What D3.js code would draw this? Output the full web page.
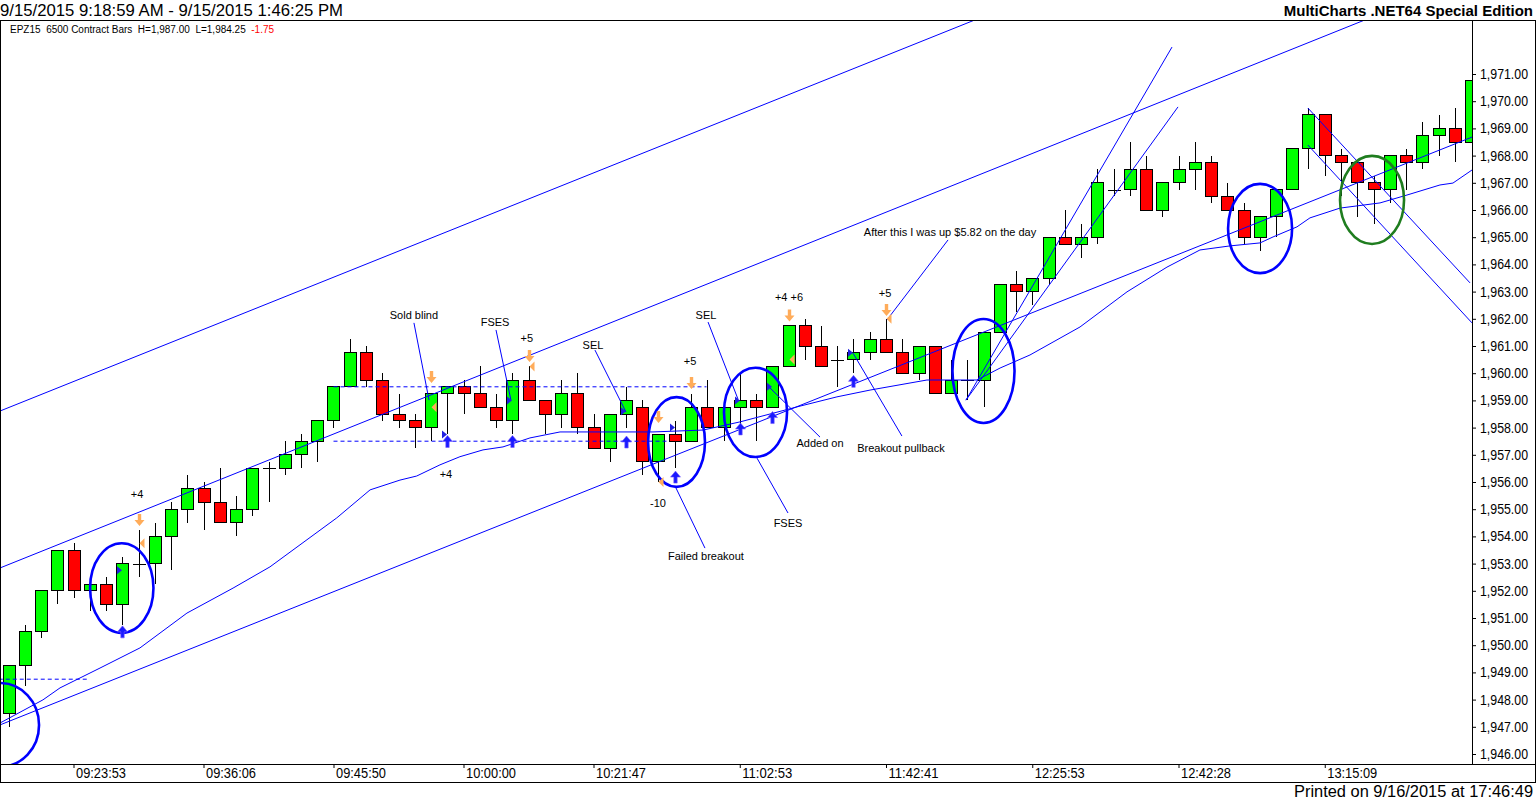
<!DOCTYPE html>
<html>
<head>
<meta charset="utf-8">
<script src="https://cdn.jsdelivr.net/npm/d3@7"></script>
<style>
body { margin: 0; background: #fff; }
svg { display: block; }
text { font-family: "Liberation Sans", Arial, sans-serif; }
</style>
</head>
<body>
<svg id="chart" width="1536" height="801"></svg>
<script>
// bars 1..91 (6500 contract bars, EPZ15)
var opens = [1947.5,1949.25,1950.5,1952,1953.5,1952,1952.25,1951.5,1953,1953,
	1954,1955,1955.75,1955.25,1954.5,1955,1956.5,1956.5,1957,1957.5,
	1958.25,1959.5,1960.75,1959.75,1958.5,1958.25,1958,1959.25,1959.5,1959.25,
	1958.75,1958.25,1959.75,1959,1958.5,1959.25,1958,1957.25,1958.5,1958.75,
	1956.75,1957.75,1957.5,1958.75,1958,1958.75,1959,1958.75,1960.25,1961.75,
	1961,1960.5,1960.5,1960.75,1961.25,1960.75,1960,1961,1959.25,1959.75,
	1959.75,1961.5,1963.25,1963,1963.5,1965,1964.75,1965,1966.75,1966.75,
	1967.5,1966,1967,1967.5,1967.75,1966.5,1966,1965,1965.75,1966.75,
	1968.25,1969.5,1968,1967.75,1967,1966.75,1968,1967.75,1968.75,1969,
	1968.5]
var highs = [1949.25,1950.75,1952,1953.5,1953.75,1952.5,1952.5,1953.25,1954.25,1954.5,
	1955.25,1956.25,1956,1956.5,1955.5,1956.5,1956.75,1957.5,1957.75,1958.25,
	1959.5,1961.25,1961,1960,1959.25,1958.5,1959.25,1959.5,1959.75,1960.25,
	1959.25,1960,1960.25,1959,1959.75,1960,1958.5,1958.5,1959.5,1959,
	1957.75,1958.25,1959.25,1959.75,1958.75,1960,1959.25,1960.25,1961.75,1962,
	1961.75,1961,1961.25,1961.5,1962,1961.25,1961,1961,1960.5,1960.5,
	1961.5,1963.25,1963.75,1963.5,1965,1966,1965.5,1967.5,1967.5,1968.5,
	1968,1967,1968,1968.5,1968,1967,1966.25,1965.75,1966.75,1968.25,
	1969.75,1969.5,1968.25,1967.75,1967.25,1968,1968.25,1969.25,1969.5,1969.75,
	1970.75]
var lows = [1947,1948.5,1950.25,1951.5,1951.75,1951.25,1951.25,1950.75,1952.5,1952.25,
	1952.75,1954.5,1954.25,1954.5,1954,1954.75,1955.25,1956.25,1956.5,1956.75,
	1958,1959.5,1959.5,1958.25,1958,1957.25,1957.5,1957.75,1958.5,1958.75,
	1958,1957.75,1959,1957.75,1958,1957.75,1957.25,1956.75,1958,1956.25,
	1956,1956.5,1957.5,1958,1957.5,1957.75,1957.5,1958.75,1960.25,1960.5,
	1960.25,1959.5,1960,1960.5,1960.75,1960,1959.75,1959.25,1959.25,1959,
	1958.75,1961.5,1962.25,1962.5,1963.25,1964.75,1964.25,1964.75,1966.5,1966.5,
	1966,1965.75,1966.75,1966.75,1966.25,1966,1964.75,1964.5,1965,1966.75,
	1967.5,1967.25,1966.5,1965.75,1965.5,1966.25,1966.75,1967.5,1968,1967.75,
	1968.5]
var closes = [1949.25,1950.5,1952,1953.5,1952,1952.25,1951.5,1953,1953,1954,
	1955,1955.75,1955.25,1954.5,1955,1956.5,1956.5,1957,1957.5,1958.25,
	1959.5,1960.75,1959.75,1958.5,1958.25,1958,1959.25,1959.5,1959.25,1958.75,
	1958.25,1959.75,1959,1958.5,1959.25,1958,1957.25,1958.5,1959,1956.75,
	1957.75,1957.5,1958.75,1958,1958.75,1959,1958.75,1960.25,1961.75,1961,
	1960.25,1960.5,1960.75,1961.25,1960.75,1960,1961,1959.25,1959.75,1959.75,
	1961.5,1963.25,1963,1963.5,1965,1964.75,1965,1967,1966.75,1967.5,
	1966,1967,1967.5,1967.75,1966.5,1966,1965,1965.75,1966.75,1968.25,
	1969.5,1968,1967.75,1967,1966.75,1968,1967.75,1968.75,1969,1968.5,
	1970.75]

var timeTickBars = [4, 12, 20, 28, 36, 45, 54, 63, 72, 81]
var timeTickLabels = ['09:23:53','09:36:06','09:45:50','10:00:00','10:21:47','11:02:53','11:42:41','12:25:53','12:42:28','13:15:09']
var priceTicks = d3.range(1946, 1972)

// moving average, [bar, price]
var maPoints = [[-0.52,1947.14],[2.12,1947.99],[3.17,1948.43],[5.63,1949.16],[8.09,1949.9],[10.98,1951.18],
	[13.82,1952.1],[16.09,1952.88],[20.2,1954.68],[22.25,1955.71],[24.09,1956.07],[25.12,1956.22],
	[26.55,1956.63],[27.78,1956.93],[29.2,1957.18],[30.43,1957.29],[32.09,1957.62],
	[33.94,1957.84],[35.6,1957.84],[37.63,1957.84],[39.66,1957.84],[42.74,1957.91],[45.02,1958.21],
	[46.86,1958.5],[48.71,1958.79],[50.98,1959.13],[53.02,1959.38],[56.52,1959.75],[59.6,1959.75],
	[61.02,1960.19],[62.86,1960.67],[65.94,1961.7],[68.83,1962.99],[71.29,1963.9],[73.32,1964.53],
	[75.17,1964.68],[77.02,1964.79],[77.82,1965.01],[79.29,1965.38],[80.09,1965.71],[81.94,1966.07],
	[84.4,1966.26],[86.06,1966.55],[88.09,1966.92],[88.89,1966.99],[90.06,1967.47]]

// drawn trend lines, [bar, price] end points
var trendLines = [
	[[-0.52,1958.61],[59.48,1972.99]],
	[[-0.52,1952.84],[83.48,1972.99]],
	[[-0.52,1947.07],[90.06,1968.68]],
	[[58.92,1959.01],[71.6,1971.99]],
	[[58.92,1959.01],[71.97,1969.79]],
	[[79.96,1969.75],[89.94,1963.32]],
	[[79.96,1968.39],[90.06,1961.85]]
]
// dashed levels: [fromBar, toBar, price]
var dashedLevels = [[-0.6, 5.0, 1948.75], [20, 42.95, 1959.5], [20, 40.6, 1957.5]]

// circles: [bar, price, radius in bars, radius in points]
var blueCircles = [[6.97,1952.1,1.95,1.65],[-0.52,1947.07,2.4,1.54],[41.11,1957.47,1.75,1.65],
	[45.97,1958.56,1.94,1.64],[60.0,1960.08,1.91,1.91],[77.02,1965.32,1.97,1.64]]
var greenCircles = [[83.91,1966.37,1.97,1.62]]

// strategy markers: [bar, price]
var buyArrows = [[7,1950.49],[27,1957.49],[31,1957.49],[38,1957.47],[41,1956.18],[45,1957.95],[47,1958.37],[52,1959.7]]
var buyFills = [[7,1952.76],[27,1957.75],[31,1959.0],[38,1958.6],[41,1958.0],[45,1959.0],[47,1959.5],[52,1960.75]]
var sellArrows = [[8,1954.6],[26,1959.86],[32,1960.63],[40,1958.39],[42,1959.64],[48,1962.12],[54,1962.32]]
var sellFills = [[8,1953.75],[26,1958.75],[32,1960.25],[40,1956.0],[48,1960.5],[54,1962.0]]

// notes: [text, bar, price]
var notes = [['+4',7.91,1955.56],['Sold blind',24.95,1962.14],['FSES',29.94,1961.88],['+5',31.9,1961.29],
	['SEL',35.97,1961.04],['+5',41.94,1960.45],['SEL',42.92,1962.14],['+4 +6',48.03,1962.8],
	['+5',53.94,1962.95],['+4',26.92,1956.29],['-10',39.97,1955.23],['Failed breakout',42.92,1953.28],
	['FSES',47.97,1954.49],['Added on',49.94,1957.43],['Breakout pullback',54.92,1957.25],
	['After this I was up $5.82 on the day',57.94,1965.17]]
var noteLines = [
	[[24.95,1961.85],[25.88,1959.01]],
	[[30.0,1961.59],[30.92,1959.01]],
	[[36.09,1960.85],[38.0,1958.57]],
	[[43.05,1961.88],[44.89,1959.05]],
	[[41.02,1955.85],[42.86,1953.57]],
	[[46.06,1956.88],[47.97,1954.86]],
	[[46.86,1959.46],[49.94,1957.65]],
	[[51.97,1960.74],[54.98,1957.69]],
	[[54.06,1961.96],[57.82,1964.9]]
]

var plot = {left: 1, right: 1472, top: 21, bottom: 764}
var blue = '#0000ff'

var svg = d3.select('#chart')
var x = d3.scaleLinear().domain([0, 90]).range([8.5, 1471])
var y = d3.scaleLinear().domain([1946, 1971]).range([754, 74])

svg.append('defs').append('clipPath').attr('id', 'plotclip')
	.append('rect')
	.attr('x', plot.left).attr('y', plot.top)
	.attr('width', plot.right - plot.left).attr('height', plot.bottom - plot.top)

// frame + titles
svg.append('rect')
	.attr('x', 0.5).attr('y', 20.5).attr('width', 1535).attr('height', 762)
	.attr('fill', 'none').attr('stroke', '#000')

svg.append('text')
	.attr('x', 0).attr('y', 16)
	.attr('textLength', 343).attr('lengthAdjust', 'spacingAndGlyphs')
	.style('font-size', '17px')
	.text('9/15/2015 9:18:59 AM - 9/15/2015 1:46:25 PM')

svg.append('text')
	.attr('x', 1533).attr('y', 16)
	.attr('text-anchor', 'end')
	.style('font-size', '15px').style('font-weight', 'bold')
	.text('MultiCharts .NET64 Special Edition')

svg.append('text')
	.attr('x', 1533).attr('y', 797)
	.attr('text-anchor', 'end')
	.attr('textLength', 239).attr('lengthAdjust', 'spacingAndGlyphs')
	.style('font-size', '16px')
	.text('Printed on 9/16/2015 at 17:46:49')

var hdr = svg.append('text')
	.attr('x', 10).attr('y', 33)
	.style('font-size', '10px')
hdr.append('tspan').attr('xml:space', 'preserve').text('EPZ15  6500 Contract Bars  H=1,987.00  L=1,984.25  ')
hdr.append('tspan').attr('fill', '#ff0000').text('-1.75')

// axes
var yAxis = svg.append('g')
	.attr('transform', 'translate(' + plot.right + ',0)')
	.call(d3.axisRight(y).tickValues(priceTicks).tickFormat(d3.format(',.2f')).tickSize(4).tickPadding(4))
yAxis.select('.domain').remove()
yAxis.selectAll('text')
	.style('font-size', '14px').attr('fill', '#000')
	.attr('textLength', 48).attr('lengthAdjust', 'spacingAndGlyphs')

var xAxis = svg.append('g')
	.attr('transform', 'translate(0,' + plot.bottom + ')')
	.call(d3.axisBottom(x).tickValues(timeTickBars).tickFormat(function(d, i) { return timeTickLabels[i] }).tickSize(4))
xAxis.select('.domain').remove()
xAxis.selectAll('text')
	.attr('text-anchor', 'start').attr('x', 2).attr('y', 4)
	.style('font-size', '14px').attr('fill', '#000')
	.attr('textLength', 50).attr('lengthAdjust', 'spacingAndGlyphs')

svg.append('line')
	.attr('x1', 0).attr('x2', 1536).attr('y1', plot.bottom + 0.5).attr('y2', plot.bottom + 0.5)
	.attr('stroke', '#000')
svg.append('line')
	.attr('x1', plot.right + 0.5).attr('x2', plot.right + 0.5).attr('y1', 20).attr('y2', plot.bottom)
	.attr('stroke', '#000')

var g = svg.append('g').attr('clip-path', 'url(#plotclip)')

// candles
var bars = d3.range(opens.length).map(function(i) {
	return {i: i, o: opens[i], h: highs[i], l: lows[i], c: closes[i]}
})

var candle = g.append('g').selectAll('g').data(bars).enter().append('g')
	.attr('shape-rendering', 'crispEdges')

candle.append('line')
	.attr('x1', d => Math.round(x(d.i)) + 0.5).attr('x2', d => Math.round(x(d.i)) + 0.5)
	.attr('y1', d => y(d.h)).attr('y2', d => y(d.l))
	.attr('stroke', '#000')

candle.filter(d => d.o != d.c).append('rect')
	.attr('x', d => Math.round(x(d.i)) - 5.5)
	.attr('width', 12)
	.attr('y', d => y(Math.max(d.o, d.c)))
	.attr('height', d => Math.abs(y(d.o) - y(d.c)))
	.attr('fill', d => d.c > d.o ? '#00ff00' : '#ff0000')
	.attr('stroke', '#000')

candle.filter(d => d.o == d.c).append('line')
	.attr('x1', d => Math.round(x(d.i)) - 6).attr('x2', d => Math.round(x(d.i)) + 7)
	.attr('y1', d => Math.round(y(d.o)) + 0.5).attr('y2', d => Math.round(y(d.o)) + 0.5)
	.attr('stroke', '#000')

// dashed levels
g.append('g').selectAll('line').data(dashedLevels).enter().append('line')
	.attr('x1', d => x(d[0])).attr('x2', d => x(d[1]))
	.attr('y1', d => y(d[2])).attr('y2', d => y(d[2]))
	.attr('stroke', blue).attr('stroke-dasharray', '4,3')

// trend lines and note pointers
var seg = d3.line().x(d => x(d[0])).y(d => y(d[1]))
g.append('g').selectAll('path').data(trendLines.concat(noteLines)).enter().append('path')
	.attr('d', seg).attr('fill', 'none').attr('stroke', blue).attr('stroke-width', 1)

g.append('path').datum(maPoints)
	.attr('d', seg).attr('fill', 'none').attr('stroke', blue).attr('stroke-width', 1)

// circles
function drawCircles(data, color) {
	g.append('g').selectAll('ellipse').data(data).enter().append('ellipse')
		.attr('cx', d => x(d[0])).attr('cy', d => y(d[1]))
		.attr('rx', d => x(d[0] + d[2]) - x(d[0]))
		.attr('ry', d => y(d[1] - d[3]) - y(d[1]))
		.attr('fill', 'none').attr('stroke', color).attr('stroke-width', 2.6)
}
drawCircles(blueCircles, blue)
drawCircles(greenCircles, '#1f7d1f')

// markers
g.append('g').selectAll('path').data(buyArrows).enter().append('path')
	.attr('transform', d => 'translate(' + (Math.round(x(d[0])) + 0.5) + ',' + y(d[1]) + ')')
	.attr('d', 'M0,-6 L5,0 L1.7,0 L1.7,6 L-1.7,6 L-1.7,0 L-5,0 Z')
	.attr('fill', '#1a1aff').attr('stroke', '#7a5cff').attr('stroke-width', 0.6)

g.append('g').selectAll('path').data(buyFills).enter().append('path')
	.attr('transform', d => 'translate(' + (Math.round(x(d[0])) - 5) + ',' + y(d[1]) + ')')
	.attr('d', 'M0,-4 L5,0 L0,4 Z')
	.attr('fill', '#2020e0')

g.append('g').selectAll('path').data(sellArrows).enter().append('path')
	.attr('transform', d => 'translate(' + (Math.round(x(d[0])) + 0.5) + ',' + y(d[1]) + ')')
	.attr('d', 'M-1.7,-6 L1.7,-6 L1.7,0 L5,0 L0,6 L-5,0 L-1.7,0 Z')
	.attr('fill', '#ffac5a')

g.append('g').selectAll('path').data(sellFills).enter().append('path')
	.attr('transform', d => 'translate(' + (Math.round(x(d[0])) + 0.5) + ',' + y(d[1]) + ')')
	.attr('d', 'M0,0 L5,-5 L5,5 Z')
	.attr('fill', '#ffac5a')

// notes
g.append('g').selectAll('text').data(notes).enter().append('text')
	.attr('x', d => x(d[1])).attr('y', d => y(d[2]))
	.attr('dy', '0.35em')
	.attr('text-anchor', 'middle')
	.style('font-size', '11px')
	.text(d => d[0])
</script>
</body>
</html>
